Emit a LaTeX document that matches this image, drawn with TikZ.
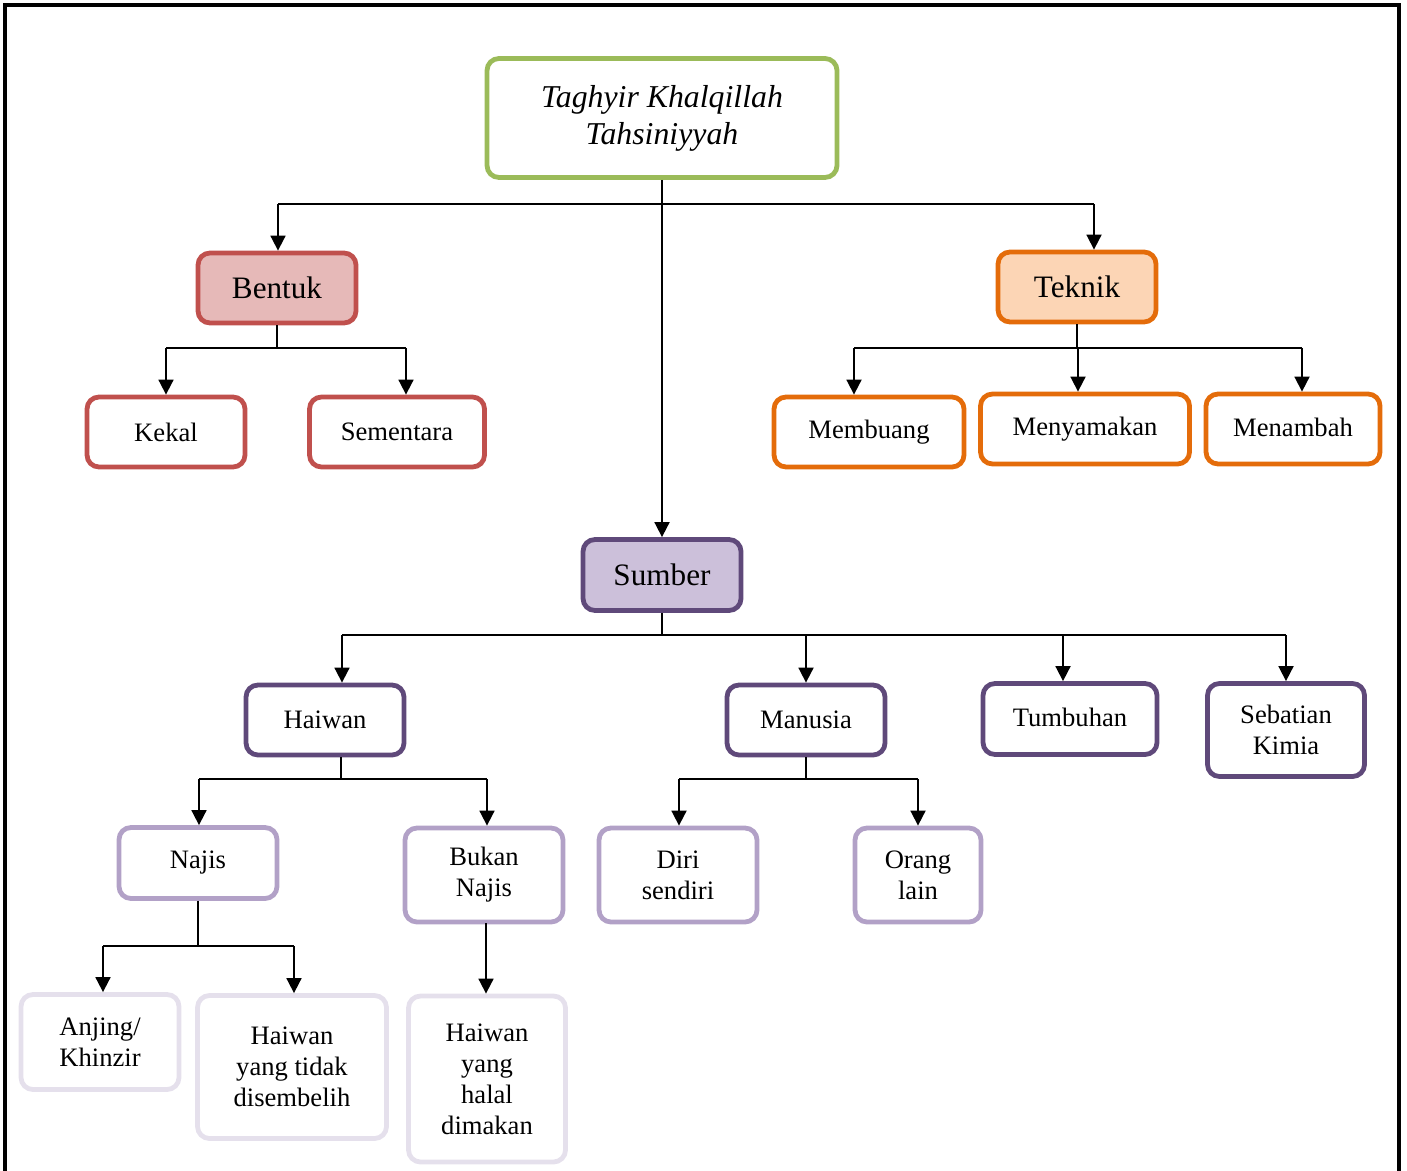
\documentclass[tikz,border=0pt]{standalone}
\usepackage{fontspec}
\setmainfont{Liberation Serif}
\usetikzlibrary{arrows.meta}

\definecolor{kgreen}{HTML}{9BBB59}
\definecolor{kred}{HTML}{C0504D}
\definecolor{kredfill}{HTML}{E6B9B8}
\definecolor{korange}{HTML}{E46C0A}
\definecolor{korangefill}{HTML}{FCD5B5}
\definecolor{kpurple}{HTML}{5F497A}
\definecolor{kpurplefill}{HTML}{CCC0DA}
\definecolor{klilac}{HTML}{B2A1C7}
\definecolor{kpale}{HTML}{E5E0EC}

\tikzset{
	box/.style={draw, rounded corners=6pt, line width=2.4pt, align=center, inner sep=2pt,
		font=\fontsize{13.3}{15.5}\selectfont},
	bigbox/.style={box, font=\fontsize{15.6}{18}\selectfont},
	link/.style={line width=0.9pt},
	arr/.style={link, -{Triangle[width=7.5pt,length=7.5pt]}},
}

\begin{document}
\begin{tikzpicture}[x=0.5pt,y=-0.5pt]%[minimum width=40]
	\useasboundingbox (0,0) rectangle (1407,1171);
	\draw[line width=1.6pt] (5,1175) -- (5,5) -- (1399,5) -- (1399,1175);

	% top
	\node[box, draw=kgreen, minimum width=175pt, minimum height=59.5pt,
		font=\fontsize{15.9}{18.5}\selectfont\itshape] (title) at (662,118) {Taghyir Khalqillah\\Tahsiniyyah};
	\node[bigbox, draw=kred, fill=kredfill, minimum width=79pt, minimum height=35pt] (bentuk) at (277,288) {Bentuk};
	\node[bigbox, draw=korange, fill=korangefill, minimum width=79pt, minimum height=35pt] (teknik) at (1077,287) {Teknik};
	\node[bigbox, draw=kpurple, fill=kpurplefill, minimum width=79pt, minimum height=35.5pt] (sumber) at (662,575) {Sumber};

	% bentuk
	\node[box, draw=kred, minimum width=79pt, minimum height=35pt] (kekal) at (166,432) {Kekal};
	\node[box, draw=kred, minimum width=87.5pt, minimum height=35pt] (sementara) at (397,432) {Sementara};

	% teknik
	\node[box, draw=korange, minimum width=95pt, minimum height=35pt] (membuang) at (869,432) {Membuang};
	\node[box, draw=korange, minimum width=104.5pt, minimum height=35pt] (menyamakan) at (1085,429) {Menyamakan};
	\node[box, draw=korange, minimum width=87pt, minimum height=35pt] (menambah) at (1293,429) {\raisebox{2pt}{Menambah}};

	% sumber
	\node[box, draw=kpurple, minimum width=79pt, minimum height=35pt] (haiwan) at (325,720) {Haiwan};
	\node[box, draw=kpurple, minimum width=79pt, minimum height=35pt] (manusia) at (806,720) {Manusia};
	\node[box, draw=kpurple, minimum width=87pt, minimum height=35.5pt] (tumbuhan) at (1070,719) {\raisebox{1.5pt}{Tumbuhan}};
	\node[box, draw=kpurple, minimum width=78.5pt, minimum height=46.5pt] (kimia) at (1286,730) {Sebatian\\Kimia};

	\node[box, draw=klilac, minimum width=79pt, minimum height=35.5pt] (najis) at (198,863) {Najis};
	\node[box, draw=klilac, minimum width=79pt, minimum height=47pt] (bukannajis) at (484,875) {Bukan\\Najis};
	\node[box, draw=klilac, minimum width=79pt, minimum height=47pt] (diri) at (678,875) {Diri\\sendiri};
	\node[box, draw=klilac, minimum width=63pt, minimum height=47pt] (orang) at (918,875) {Orang\\lain};

	\node[box, draw=kpale, minimum width=79pt, minimum height=47.5pt] (anjing) at (100,1042) {Anjing/\\Khinzir};
	\node[box, draw=kpale, minimum width=94.5pt, minimum height=71.5pt] (tidaksembelih) at (292,1067) {Haiwan\\yang tidak\\disembelih};
	\node[box, draw=kpale, minimum width=78.5pt, minimum height=83pt] (halal) at (487,1079) {Haiwan\\yang\\halal\\dimakan};

	% connectors
	\draw[arr] (title.south) -- (sumber.north);
	\draw[link] (278,204) -- (1094,204);
	\draw[arr] (278,204) -- (278,204 |- bentuk.north);
	\draw[arr] (1094,204) -- (1094,204 |- teknik.north);

	\draw[link] (bentuk.south) -- (277,348);
	\draw[link] (166,348) -- (406,348);
	\foreach \n/\x in {kekal/166, sementara/406}
		\draw[arr] (\x,348) -- (\x,348 |- \n.north);

	\draw[link] (teknik.south) -- (1077,348);
	\draw[link] (854,348) -- (1302,348);
	\foreach \n/\x in {membuang/854, menyamakan/1078, menambah/1302}
		\draw[arr] (\x,348) -- (\x,348 |- \n.north);

	\draw[link] (sumber.south) -- (662,635);
	\draw[link] (342,635) -- (1286,635);
	\foreach \n/\x in {haiwan/342, manusia/806, tumbuhan/1063, kimia/1286}
		\draw[arr] (\x,635) -- (\x,635 |- \n.north);

	\draw[link] (341,779) -- (341,779 |- haiwan.south);
	\draw[link] (199,779) -- (487,779);
	\foreach \n/\x in {najis/199, bukannajis/487}
		\draw[arr] (\x,779) -- (\x,779 |- \n.north);

	\draw[link] (manusia.south) -- (806,779);
	\draw[link] (679,779) -- (918,779);
	\foreach \n/\x in {diri/679, orang/918}
		\draw[arr] (\x,779) -- (\x,779 |- \n.north);

	\draw[link] (najis.south) -- (198,946);
	\draw[link] (103,946) -- (294,946);
	\foreach \n/\x in {anjing/103, tidaksembelih/294}
		\draw[arr] (\x,946) -- (\x,946 |- \n.north);

	\draw[arr] (486,923) -- (486,923 |- halal.north);
\end{tikzpicture}
\end{document}
